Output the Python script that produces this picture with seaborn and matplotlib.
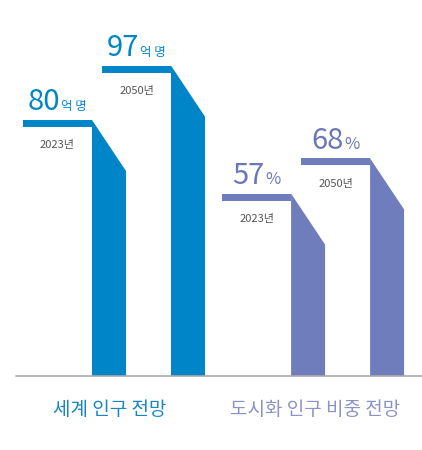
import matplotlib
matplotlib.use('Agg')
import matplotlib.pyplot as plt
import seaborn as sns
import pandas as pd
from matplotlib.patches import Polygon, Rectangle

# ---- data ----
groups = ['세계 인구 전망', '도시화 인구 비중 전망']
years = ['2023년', '2050년']
world_pop = [80, 97]        # 억 명
urban_share = [57, 68]      # %
units = ['억 명', '%']

sns.set_theme(style='white')
plt.rcParams['font.family'] = ['Noto Sans CJK KR', 'DejaVu Sans']

bar_colors = ['#0085C8', '#6F7DBD']
num_colors = ['#0085C8', '#6B77B9']
label_colors = ['#1786C5', '#8A93C9']
unit_sizes = [9, 12]

group_offset = 2.52
rows = []
for gi, (g, vals) in enumerate(zip(groups, [world_pop, urban_share])):
    for yi, (yr, v) in enumerate(zip(years, vals)):
        rows.append(dict(group=g, gi=gi, year=yr, value=v,
                         pos=gi * group_offset + yi, unit=units[gi]))
df = pd.DataFrame(rows)

fig = plt.figure(figsize=(4.22, 4.5), dpi=100)
ax = fig.add_axes([0, 74 / 450, 1, 376 / 450])
sns.barplot(data=df, x='pos', y='value', hue='group', palette=bar_colors,
            native_scale=True, width=0.43, dodge=False, legend=False,
            saturation=1, ax=ax)

px_per_unit = 3.2
drop = 51 / px_per_unit
shelf = 69 / 79
thick = 7 / px_per_unit

ax.set_xlim(-109 / 79, (422 - 109) / 79)
ax.set_ylim(0, 376 / px_per_unit)

bars = sorted(list(ax.patches), key=lambda p: p.get_x())
labels = []
for p, (_, r) in zip(bars, df.sort_values('pos').iterrows()):
    x0, w, h = p.get_x(), p.get_width(), p.get_height()
    fc = bar_colors[r.gi]
    p.set_visible(False)
    ax.add_patch(Polygon([(x0, h), (x0 + w, h - drop), (x0 + w, 0), (x0, 0)],
                         closed=True, fc=fc, ec='none'))
    ax.add_patch(Rectangle((x0 - shelf, h - thick), shelf, thick, fc=fc, ec='none'))
    cx = x0 - shelf / 2
    t = ax.text(cx, h + 3.0, f'{r.value:g}', ha='left', va='baseline',
                fontsize=21, color=num_colors[r.gi])
    u = ax.annotate(r.unit, xy=(1, h + 3.0), xycoords=(t, 'data'), xytext=(0.5, 0),
                    textcoords='offset points', ha='left', va='baseline',
                    fontsize=unit_sizes[r.gi], color=num_colors[r.gi])
    labels.append((t, u, cx, h + 3.0))
    ax.text(cx, h - thick - 6.6, r.year, ha='center', va='baseline',
            fontsize=8, color='#555555')

# center number + unit over the shelf
fig.canvas.draw()
r_ = fig.canvas.get_renderer()
inv = ax.transData.inverted()
for t, u, cx, y in labels:
    b1 = t.get_window_extent(r_)
    b2 = u.get_window_extent(r_)
    left, right = b1.x0, b2.x1
    wdata = inv.transform((right, 0))[0] - inv.transform((left, 0))[0]
    t.set_position((cx - wdata / 2, y))

label_x = [0.01, 2.61]
for gi, g in enumerate(groups):
    ax.text(label_x[gi], -12.2, g, ha='center', va='baseline', fontsize=13.7,
            color=label_colors[gi], clip_on=False)

ax.axis('off')
ax.axhline(0, xmin=16 / 422, xmax=1, color='#aaaaaa', lw=1.2, clip_on=False)

fig.savefig('out.png', dpi=100)
